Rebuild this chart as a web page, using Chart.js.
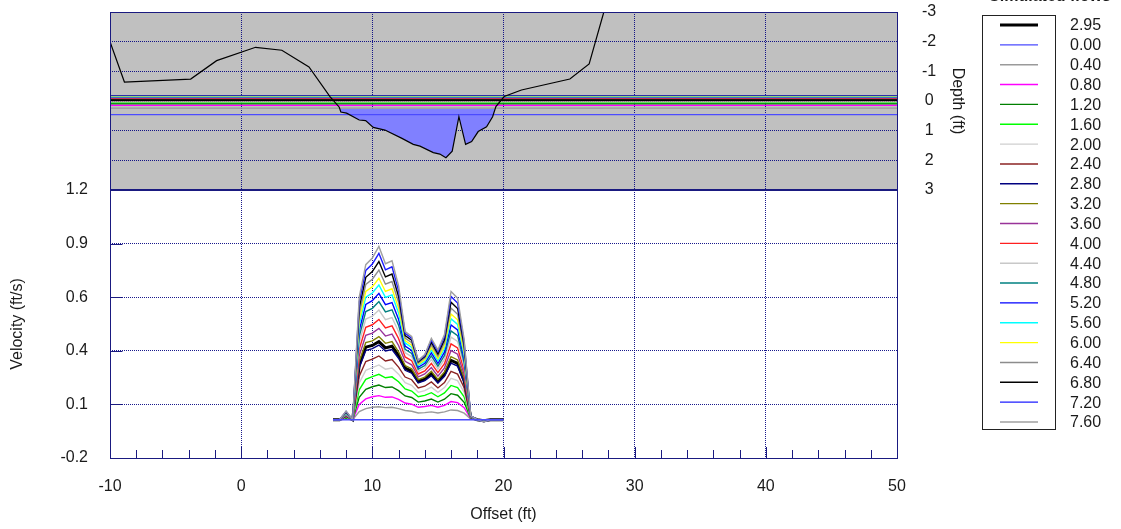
<!DOCTYPE html>
<html>
<head>
<meta charset="utf-8">
<title>Simulated flows</title>
<script src="https://cdn.jsdelivr.net/npm/chart.js@4.4.1/dist/chart.umd.min.js"></script>
<style>
  html, body { margin: 0; padding: 0; background: #fff; }
  #wrap { width: 1121px; height: 529px; }
</style>
</head>
<body>
<div id="wrap"><canvas id="chart" width="1121" height="529"></canvas></div>
<script>
// Flows shown in the legend (2.95 is the highlighted flow)
const flowLabels = ['2.95', '0.00', '0.40', '0.80', '1.20', '1.60', '2.00', '2.40', '2.80', '3.20', '3.60',
                    '4.00', '4.40', '4.80', '5.20', '5.60', '6.00', '6.40', '6.80', '7.20', '7.60'];

// Stations across the channel where velocity is reported (ft)
const offsets = [7, 7.5, 8, 8.5, 9, 9.5, 10, 10.5, 11, 11.5, 12, 12.5, 13, 13.5, 14,
                 14.5, 15, 15.5, 16, 16.5, 17, 17.5, 18, 18.5, 19, 19.5, 20];

// Velocity profiles (ft/s), one per flow
const vel_2_95 = [0, 0, 0.02, 0, 0.286, 0.379, 0.388, 0.408, 0.375, 0.384, 0.335, 0.269, 0.253, 0.2, 0.212, 0.241, 0.2, 0.237, 0.31, 0.294, 0.204, 0.012, 0, -0.005, 0, 0, 0];
const vel_0_00 = [0, 0, 0, 0, 0, 0, 0, 0, 0, 0, 0, 0, 0, 0, 0, 0, 0, 0, 0, 0, 0, 0, 0, 0, 0, 0, 0];
const vel_0_40 = [0, 0, 0.003, 0, 0.042, 0.058, 0.065, 0.068, 0.063, 0.065, 0.058, 0.048, 0.044, 0.035, 0.037, 0.041, 0.035, 0.041, 0.051, 0.048, 0.034, 0.003, 0, -0.001, 0, 0, 0];
const vel_0_80 = [0, 0, 0.006, 0, 0.08, 0.109, 0.12, 0.126, 0.117, 0.119, 0.106, 0.087, 0.081, 0.065, 0.069, 0.075, 0.065, 0.075, 0.095, 0.089, 0.063, 0.006, 0, -0.002, 0, 0, 0];
const vel_1_20 = [0, 0, 0.009, 0, 0.117, 0.159, 0.172, 0.181, 0.168, 0.171, 0.152, 0.124, 0.116, 0.092, 0.098, 0.108, 0.092, 0.107, 0.136, 0.128, 0.091, 0.008, 0, -0.002, 0, 0, 0];
const vel_1_60 = [0, 0, 0.012, 0, 0.156, 0.211, 0.225, 0.237, 0.219, 0.224, 0.198, 0.161, 0.15, 0.12, 0.127, 0.141, 0.12, 0.14, 0.179, 0.168, 0.119, 0.009, 0, -0.003, 0, 0, 0];
const vel_2_00 = [0, 0, 0.014, 0, 0.192, 0.258, 0.272, 0.286, 0.264, 0.27, 0.238, 0.193, 0.18, 0.143, 0.152, 0.17, 0.143, 0.168, 0.216, 0.204, 0.143, 0.011, 0, -0.004, 0, 0, 0];
const vel_2_40 = [0, 0, 0.016, 0, 0.227, 0.304, 0.316, 0.333, 0.307, 0.314, 0.275, 0.223, 0.209, 0.166, 0.175, 0.197, 0.166, 0.194, 0.252, 0.238, 0.167, 0.011, 0, -0.004, 0, 0, 0];
const vel_2_80 = [0, 0, 0.019, 0, 0.271, 0.361, 0.371, 0.39, 0.359, 0.367, 0.321, 0.258, 0.243, 0.192, 0.204, 0.23, 0.192, 0.227, 0.296, 0.28, 0.195, 0.012, 0, -0.005, 0, 0, 0];
const vel_3_20 = [0, 0, 0.022, 0, 0.304, 0.403, 0.412, 0.434, 0.399, 0.408, 0.355, 0.283, 0.266, 0.209, 0.223, 0.253, 0.21, 0.25, 0.329, 0.312, 0.216, 0.013, 0, -0.005, 0, 0, 0];
const vel_3_60 = [0, 0, 0.024, 0, 0.334, 0.441, 0.452, 0.477, 0.437, 0.447, 0.388, 0.305, 0.287, 0.224, 0.239, 0.273, 0.228, 0.271, 0.361, 0.342, 0.236, 0.014, 0, -0.006, 0, 0, 0];
const vel_4_00 = [0, 0, 0.026, 0, 0.368, 0.483, 0.496, 0.524, 0.479, 0.49, 0.424, 0.328, 0.308, 0.239, 0.255, 0.294, 0.246, 0.293, 0.396, 0.375, 0.258, 0.015, 0, -0.006, 0, 0, 0];
const vel_4_40 = [0, 0, 0.028, 0, 0.402, 0.526, 0.541, 0.573, 0.523, 0.534, 0.461, 0.35, 0.329, 0.253, 0.27, 0.315, 0.264, 0.316, 0.431, 0.409, 0.28, 0.015, 0, -0.007, 0, 0, 0];
const vel_4_80 = [0, 0, 0.03, 0, 0.434, 0.565, 0.582, 0.617, 0.563, 0.574, 0.494, 0.368, 0.346, 0.264, 0.283, 0.333, 0.28, 0.335, 0.464, 0.439, 0.299, 0.017, 0, -0.007, 0, 0, 0];
const vel_5_20 = [0, 0, 0.032, 0, 0.465, 0.602, 0.622, 0.66, 0.601, 0.612, 0.525, 0.385, 0.362, 0.274, 0.295, 0.349, 0.294, 0.353, 0.495, 0.469, 0.318, 0.017, 0, -0.008, 0, 0, 0];
const vel_5_60 = [0, 0, 0.034, 0, 0.496, 0.64, 0.662, 0.704, 0.639, 0.652, 0.558, 0.401, 0.378, 0.283, 0.306, 0.365, 0.308, 0.372, 0.527, 0.498, 0.337, 0.018, 0, -0.008, 0, 0, 0];
const vel_6_00 = [0, 0, 0.036, 0, 0.521, 0.67, 0.694, 0.739, 0.67, 0.684, 0.583, 0.413, 0.389, 0.29, 0.313, 0.377, 0.319, 0.385, 0.552, 0.522, 0.352, 0.018, 0, -0.009, 0, 0, 0];
const vel_6_40 = [0, 0, 0.038, 0, 0.551, 0.707, 0.734, 0.782, 0.708, 0.722, 0.614, 0.427, 0.403, 0.296, 0.322, 0.391, 0.332, 0.402, 0.583, 0.551, 0.37, 0.019, 0, -0.009, 0, 0, 0];
const vel_6_80 = [0, 0, 0.04, 0, 0.583, 0.744, 0.774, 0.826, 0.746, 0.761, 0.644, 0.439, 0.415, 0.302, 0.33, 0.404, 0.344, 0.418, 0.614, 0.581, 0.388, 0.019, 0, -0.01, 0, 0, 0];
const vel_7_20 = [0, 0, 0.043, 0, 0.614, 0.78, 0.813, 0.869, 0.783, 0.799, 0.674, 0.451, 0.426, 0.308, 0.335, 0.416, 0.355, 0.433, 0.644, 0.609, 0.406, 0.02, 0, -0.011, 0, 0, 0];
const vel_7_60 = [0, 0, 0.045, 0, 0.64, 0.81, 0.845, 0.905, 0.815, 0.83, 0.7, 0.46, 0.435, 0.31, 0.34, 0.425, 0.365, 0.445, 0.67, 0.635, 0.42, 0.02, 0, -0.012, 0, 0, 0];

// Water surface depth for each flow (ft, same order as flowLabels)
const waterDepth = [-0.03, 0.46, 0.24, 0.15, 0.1, 0.07, 0.035, 0, -0.02, -0.05, -0.065,
                    -0.08, -0.09, -0.1, -0.11, -0.12, -0.135, -0.145, -0.155, -0.17, -0.18];

// Ground / channel bed profile
const bedOffset = [-10, -8.9, -3.85, -1.87, 1.1, 3.1, 5.17, 6.77, 7.48, 7.6, 8.04, 9.0, 9.49, 10.07, 10.96,
                   12.26, 13.12, 13.63, 14.65, 15.15, 15.61, 16.09, 16.6, 17.11, 17.57, 18.07, 18.71, 19.17,
                   19.42, 20.05, 21.37, 25.06, 26.53, 27.65];
const bedDepth = [-2.0, -0.64, -0.74, -1.36, -1.81, -1.71, -1.15, -0.15, 0.21, 0.37, 0.41, 0.64, 0.66, 0.89, 0.98,
                  1.26, 1.46, 1.52, 1.74, 1.79, 1.91, 1.69, 0.53, 1.46, 1.37, 1.03, 0.87, 0.53,
                  0.19, -0.15, -0.37, -0.74, -1.25, -3.0];

const velocitySeries = [vel_2_95, vel_0_00, vel_0_40, vel_0_80, vel_1_20, vel_1_60, vel_2_00, vel_2_40, vel_2_80,
                        vel_3_20, vel_3_60, vel_4_00, vel_4_40, vel_4_80, vel_5_20, vel_5_60, vel_6_00, vel_6_40,
                        vel_6_80, vel_7_20, vel_7_60];

// line styles
const flowColors = ['#000000', '#4b4bff', '#9a9a9a', '#ff00ff', '#008000', '#00ff00', '#cfcfcf', '#8b2323',
                    '#000080', '#808000', '#993399', '#ff2020', '#c8c8c8', '#008080', '#0000ff', '#00ffff',
                    '#ffff00', '#8c8c8c', '#000000', '#1c1cff', '#a0a0a0'];
const flowWidths = flowLabels.map(l => l === '2.95' ? 3 : 1.4);

const NAVY = '#1a1a80';
const GRID = 'rgba(0, 0, 128, 0.9)';
const TXT = '#1a1a1a';
const NOTICK = 'rgba(0,0,0,0)';

Chart.defaults.font.family = '"Liberation Sans", Arial, sans-serif';
Chart.defaults.font.size = 16;
Chart.defaults.color = TXT;

const datasets = [];

// velocity profiles (bottom panel)
flowLabels.forEach((lab, i) => {
    let order = 40 - i;
    if (lab === '0.00') order = 0;
    if (lab === '2.95') order = 60;
    datasets.push({
        label: lab,
        data: offsets.map((x, j) => ({ x: x, y: velocitySeries[i][j] })),
        xAxisID: 'x',
        yAxisID: 'yv',
        borderColor: flowColors[i],
        borderWidth: flowWidths[i],
        pointRadius: 0,
        fill: false,
        order: order
    });
});

// water surfaces (top panel)
flowLabels.forEach((lab, i) => {
    datasets.push({
        label: 'ws ' + lab,
        data: [{ x: -10, y: waterDepth[i] }, { x: 50, y: waterDepth[i] }],
        xAxisID: 'x',
        yAxisID: 'yd',
        borderColor: flowColors[i],
        borderWidth: lab === '2.95' ? 1.6 : 1.2,
        pointRadius: 0,
        fill: false,
        order: 80 + i
    });
});

// channel bed, wetted part shaded
datasets.push({
    label: 'bed',
    data: bedOffset.map((x, j) => ({ x: x, y: bedDepth[j] })),
    xAxisID: 'x',
    yAxisID: 'yd',
    borderColor: '#000000',
    borderWidth: 1.2,
    pointRadius: 0,
    fill: { target: { value: 0.25 }, above: 'rgba(0,0,0,0)', below: '#8080ff' },
    order: 70
});

// gray background of the section panel, frames and inner tick marks
const panelPlugin = {
    id: 'panels',
    beforeDraw(chart) {
        const { ctx, chartArea: a, scales } = chart;
        const yd = scales.yd;
        ctx.save();
        ctx.fillStyle = '#c0c0c0';
        ctx.fillRect(a.left, yd.top, a.right - a.left, yd.bottom - yd.top);
        ctx.restore();
    },
    afterDraw(chart) {
        const { ctx, chartArea: a, scales } = chart;
        const x = scales.x, yv = scales.yv, yd = scales.yd;
        const L = Math.round(a.left) + 0.5, R = Math.round(a.right) + 0.5;
        ctx.save();
        ctx.strokeStyle = NAVY;
        ctx.lineWidth = 1;
        ctx.strokeRect(L, Math.round(yd.top) + 0.5, R - L, Math.round(yd.bottom) - Math.round(yd.top));
        ctx.strokeRect(L, Math.round(yv.top) + 0.5, R - L, Math.round(yv.bottom) - Math.round(yv.top));
        // separator between the panels
        ctx.lineWidth = 2;
        ctx.beginPath();
        ctx.moveTo(L, Math.round(yv.top));
        ctx.lineTo(R, Math.round(yv.top));
        ctx.stroke();
        // inward ticks on the offset axis
        ctx.lineWidth = 1;
        ctx.beginPath();
        for (let v = -8; v < 50; v += 2) {
            const px = Math.round(x.getPixelForValue(v)) + 0.5;
            const len = v % 10 === 0 ? 11 : 8;
            ctx.moveTo(px, a.bottom);
            ctx.lineTo(px, a.bottom - len);
        }
        // inward ticks on the velocity axis
        yv.ticks.forEach(t => {
            const py = Math.round(yv.getPixelForValue(t.value)) + 0.5;
            ctx.moveTo(L, py);
            ctx.lineTo(L + 12, py);
        });
        ctx.stroke();
        ctx.restore();
    }
};

// legend box at the right
const flowLegend = {
    id: 'flowLegend',
    afterDraw(chart) {
        const ctx = chart.ctx;
        ctx.save();
        ctx.strokeStyle = '#222';
        ctx.lineWidth = 1;
        ctx.strokeRect(982.5, 15.5, 73, 414);
        ctx.fillStyle = TXT;
        ctx.textAlign = 'center';
        ctx.textBaseline = 'middle';
        ctx.font = 'bold 16px "Liberation Sans", Arial, sans-serif';
        ctx.fillText('Simulated flows', 1050, -3);
        ctx.font = '16px "Liberation Sans", Arial, sans-serif';
        ctx.textAlign = 'left';
        flowLabels.forEach((lab, i) => {
            const y = 25 + i * 19.85;
            ctx.strokeStyle = flowColors[i];
            ctx.lineWidth = flowWidths[i];
            ctx.beginPath();
            ctx.moveTo(1000, y);
            ctx.lineTo(1038, y);
            ctx.stroke();
            ctx.fillText(lab, 1070, y + 1);
        });
        ctx.restore();
    }
};

new Chart(document.getElementById('chart'), {
    type: 'line',
    data: { datasets: datasets },
    options: {
        responsive: false,
        animation: false,
        devicePixelRatio: 1,
        layout: { padding: { top: 12, right: 154, left: 0, bottom: 0 } },
        plugins: {
            legend: { display: false },
            tooltip: { enabled: false },
            filler: { drawTime: 'beforeDatasetsDraw' }
        },
        scales: {
            x: {
                type: 'linear',
                min: -10,
                max: 50,
                ticks: { stepSize: 10, padding: 19 },
                grid: { color: GRID, drawTicks: false },
                border: { display: false, dash: [1, 1] },
                title: { display: true, text: 'Offset (ft)', padding: { top: 0, bottom: 5 } },
                afterFit: s => { s.height = 71; }
            },
            ydL: {
                type: 'linear',
                position: 'left',
                stack: 'left',
                stackWeight: 178,
                weight: 1,
                display: false,
                min: -3,
                max: 3
            },
            yv: {
                type: 'linear',
                position: 'left',
                stack: 'left',
                stackWeight: 268,
                weight: 0,
                min: -0.2,
                max: 1.2,
                ticks: { stepSize: 0.28, padding: 0, autoSkip: false, callback: v => v.toFixed(1) },
                grid: { color: GRID, drawTicks: true, tickLength: 22, tickColor: NOTICK },
                border: { display: false, dash: [1, 1] },
                title: { display: true, text: 'Velocity (ft/s)', padding: { top: 8, bottom: 0 } },
                afterFit: s => { s.width = 110; }
            },
            yd: {
                type: 'linear',
                position: 'right',
                stack: 'right',
                stackWeight: 178,
                weight: 0,
                min: -3,
                max: 3,
                reverse: true,
                ticks: { stepSize: 1, padding: 0, autoSkip: false, crossAlign: 'center' },
                grid: { color: GRID, drawTicks: true, tickLength: 25, tickColor: NOTICK },
                border: { display: false, dash: [1, 1] },
                title: { display: true, text: 'Depth (ft)', padding: { top: 0, bottom: 0 } },
                afterFit: s => { s.width = 70; }
            },
            yvR: {
                type: 'linear',
                position: 'right',
                stack: 'right',
                stackWeight: 268,
                weight: 1,
                display: false,
                min: -0.2,
                max: 1.2
            }
        }
    },
    plugins: [panelPlugin, flowLegend]
});
</script>
</body>
</html>
